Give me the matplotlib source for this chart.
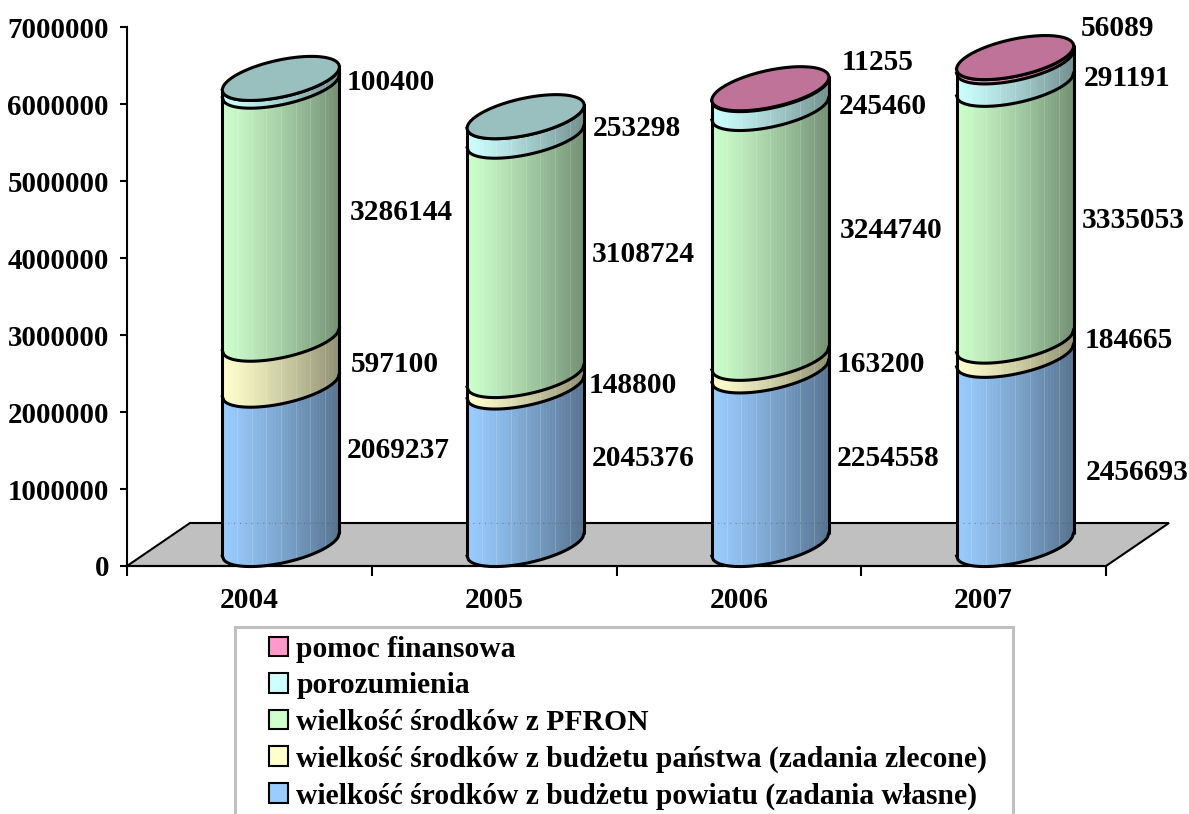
import numpy as np
import matplotlib
matplotlib.use("Agg")
import matplotlib.pyplot as plt
from matplotlib.patches import Polygon, Rectangle

plt.rcParams['font.family'] = ['Liberation Serif', 'DejaVu Serif']
plt.rcParams['font.weight'] = 'bold'

years = ['2004', '2005', '2006', '2007']
powiat = [2069237, 2045376, 2254558, 2456693]
panstwo = [597100, 148800, 163200, 184665]
pfron = [3286144, 3108724, 3244740, 3335053]
porozumienia = [100400, 253298, 245460, 291191]
pomoc = [0, 0, 11255, 56089]
series = [powiat, panstwo, pfron, porozumienia, pomoc]
names = ['wielkość środków z budżetu powiatu (zadania własne)',
         'wielkość środków z budżetu państwa (zadania zlecone)',
         'wielkość środków z PFRON', 'porozumienia', 'pomoc finansowa']
colors = ['#99CCFF', '#FFFFCC', '#CCFFCC', '#CCFFFF', '#FF99CC']
yticks = [0, 1000000, 2000000, 3000000, 4000000, 5000000, 6000000, 7000000]

# layout (pixels of the 1189x814 canvas)
W, H = 1189, 814
L, R, T, B = 127, 1106, 27, 566
label_px = [
    [(398, 451), (643, 458), (888, 459), (1137, 473)],
    [(395, 364), (633, 385), (881, 365), (1129, 341)],
    [(401, 212), (643, 254), (891, 231), (1133, 220)],
    [(391, 83), (637, 128), (883, 106), (1127, 78)],
    [None, None, (878, 62), (1118, 29)],
]
FS = 21.2
FS_Y = 20.8
LW = 2.2

fig = plt.figure(figsize=(W / 100, H / 100), dpi=100, facecolor='white')
ax = fig.add_axes([L / W, 1 - B / H, (R - L) / W, (B - T) / H])
ax.set_xlim(-0.5, 3.5)
ax.set_ylim(0, 7000000)
ax.patch.set_visible(False)
px_x = 4 / (R - L)
px_y = 7000000 / (B - T)
dx, dy = 31.5 * px_x, 21.5 * px_y
a = 58.5 * px_x
b, k = 18.8 * px_y, 11.5 * px_y

for s in ['top', 'right']:
    ax.spines[s].set_visible(False)
for s in ['left', 'bottom']:
    ax.spines[s].set_linewidth(1.5)
ax.set_yticks(yticks)
ax.set_yticklabels([str(v) for v in yticks], fontsize=FS_Y, fontweight='bold')
ax.set_xticks(np.arange(-0.5, 4, 1))
ax.set_xticklabels([])
ax.set_xticks(range(4), years, minor=True, fontsize=FS, fontweight='bold')
ax.tick_params(axis='y', length=5, width=1.5, pad=8)
ax.tick_params(axis='x', which='major', length=7, width=1.5)
ax.tick_params(axis='x', which='minor', length=0, pad=15)

# floor
ax.add_patch(Polygon([(-0.5, 0), (-0.5 + 2 * dx, 2 * dy), (3.5 + 2 * dx, 2 * dy), (3.5, 0)],
                     closed=True, fc='#C0C0C0', ec='black', lw=1.5, clip_on=False, zorder=1))


def front(u, base):
    return base + dy + k * u - b * np.sqrt(np.clip(1 - u ** 2, 0, 1))


def shade(col, f):
    return tuple(c * f for c in matplotlib.colors.to_rgb(col))


N = 40
edges = np.linspace(-1, 1, N + 1)
for i in range(4):
    cx = i + dx
    y0 = 0
    tops = []
    for j, vals in enumerate(series):
        v = vals[i]
        if v == 0:
            continue
        y1 = y0 + v
        for n in range(N):
            u = np.linspace(edges[n], edges[n + 1], 5)
            f = 1 - 0.44 * ((n + 0.5) / N) ** 1.2
            c = shade(colors[j], f)
            ax.fill_between(cx + a * u, front(u, y0), front(u, y1), color=c, lw=0.4,
                            clip_on=False, zorder=3)
            if n % 5 == 4:
                ue = np.array([edges[n + 1]])
                ax.plot([cx + a * ue[0]] * 2, [front(ue, y0)[0], front(ue, y1)[0]],
                        color='white', alpha=0.16, lw=0.8, clip_on=False, zorder=3.5)
        uu = np.linspace(-1, 1, 80)
        if y0 == 0:
            ax.plot(cx + a * uu, front(uu, 0), color='black', lw=LW, clip_on=False, zorder=4)
        ax.plot(cx + a * uu, front(uu, y1), color='black', lw=LW, clip_on=False, zorder=4)
        tops.append((j, y1))
        pos = label_px[j][i]
        fig.text(pos[0] / W, 1 - pos[1] / H, f'{v}', fontsize=FS, fontweight='bold',
                 ha='center', va='center', color='black')
        y0 = y1
    # sides
    for sgn in (-1, 1):
        u = np.array([sgn * 1.0])
        ax.plot([cx + sgn * a] * 2, [front(u, 0)[0], front(u, y0)[0]], color='black', lw=LW,
                clip_on=False, zorder=4, solid_capstyle='round')
    # lid
    t = np.linspace(0, 2 * np.pi, 160)
    ax.add_patch(Polygon(np.c_[cx + a * np.cos(t), y0 + dy + k * np.cos(t) + b * np.sin(t)],
                         closed=True, fc=shade(colors[tops[-1][0]], 0.75), ec='black', lw=LW,
                         clip_on=False, zorder=5))
    # dotted trace of the floor's back edge across the cylinder
    ax.plot([cx - a, cx + a], [2 * dy, 2 * dy], color='#555555', lw=0.7, ls=(0, (1, 5)),
            alpha=0.6, clip_on=False, zorder=4)

# legend
fig.add_artist(Rectangle((235 / W, -0.02), 778 / W, 1 - 627 / H + 0.02, transform=fig.transFigure,
                         fc='white', ec='#C0C0C0', lw=2.2))
handles = [Rectangle((0, 0), 1, 1, fc=colors[j], ec='black', lw=1.5) for j in range(4, -1, -1)]
fig.legend(handles, [names[j] for j in range(4, -1, -1)], loc='upper left',
           bbox_to_anchor=(269 / W, 1 - 636 / H), bbox_transform=fig.transFigure,
           frameon=False, prop={'family': 'Liberation Serif', 'weight': 'bold', 'size': 21.3},
           handlelength=0.64, handleheight=0.64, handletextpad=0.28, labelspacing=0.32,
           borderpad=0, borderaxespad=0)

fig.savefig('out.png', dpi=100, facecolor='white')
